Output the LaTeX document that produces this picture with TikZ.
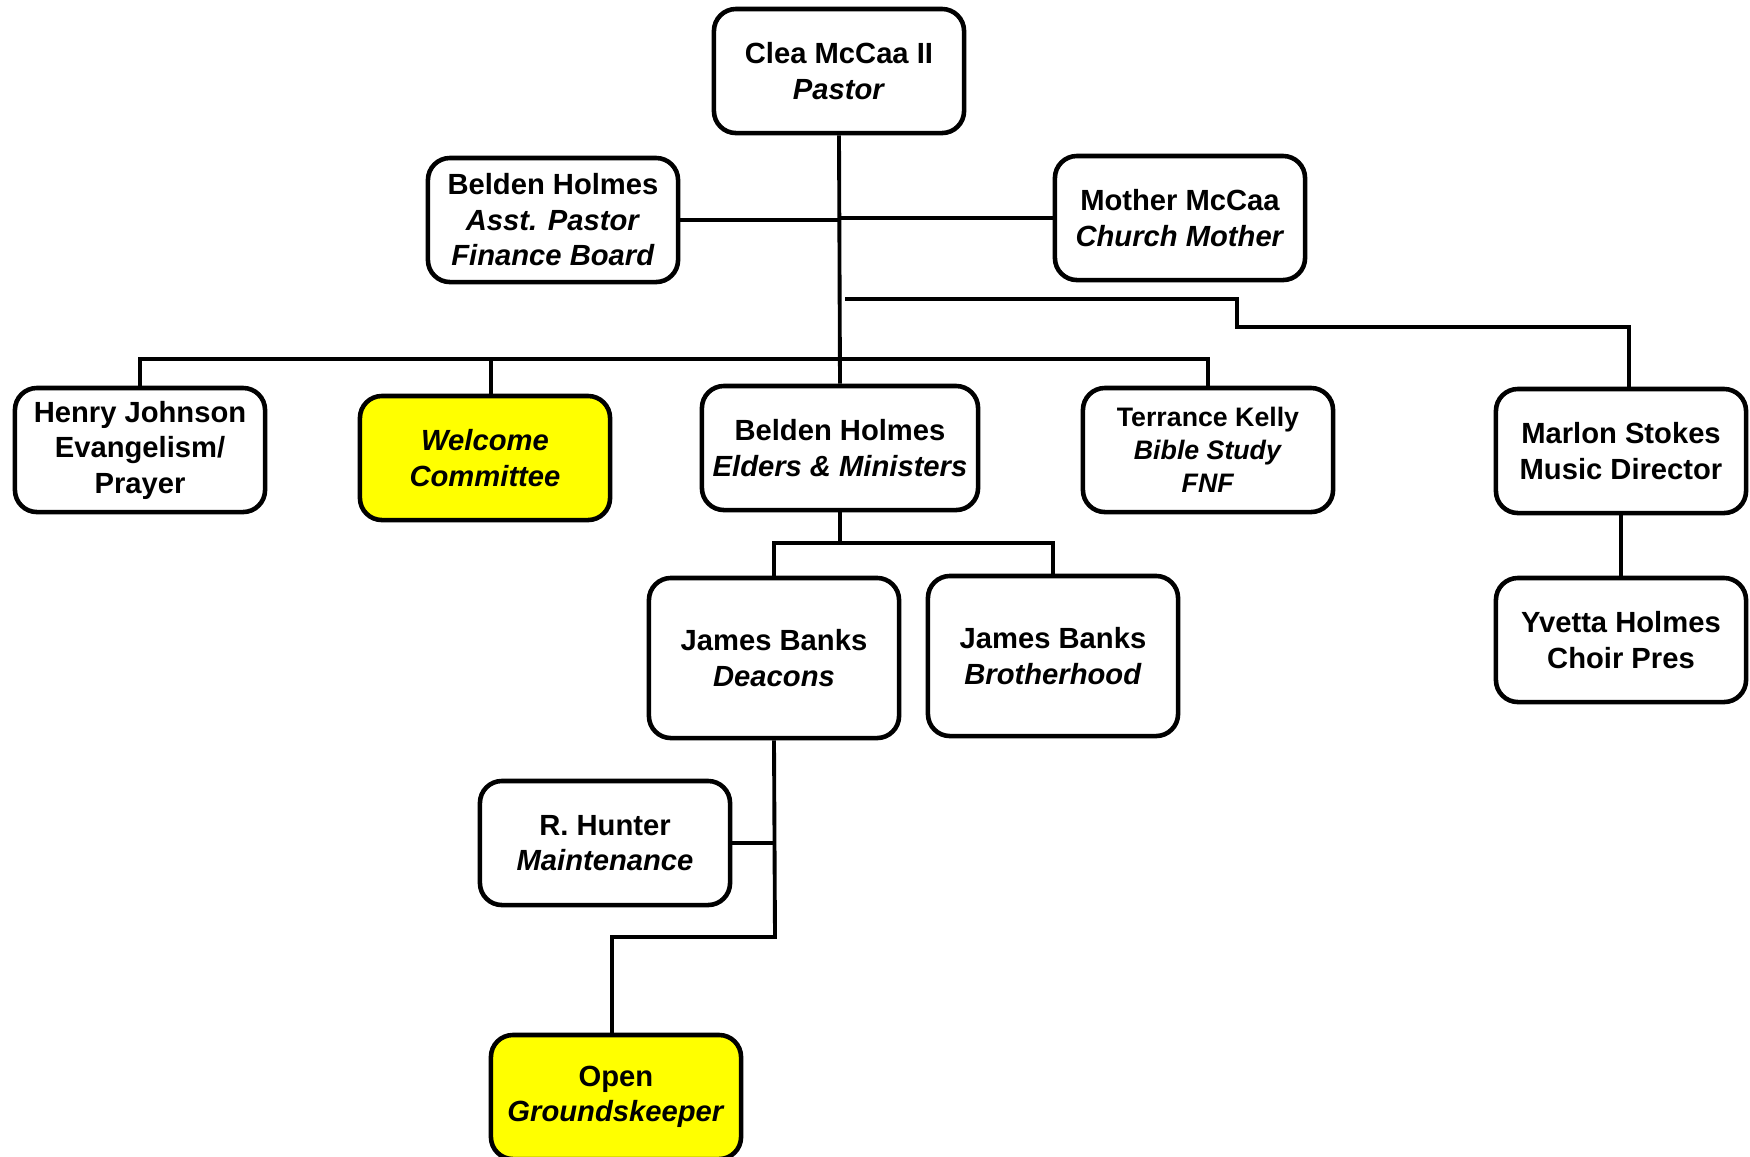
\documentclass[tikz,border=0pt]{standalone}
\usepackage{fontspec}
\setmainfont{Liberation Sans}
\usepackage{tikz}
\usetikzlibrary{positioning}
\definecolor{LineColor}{RGB}{0,0,0}
\definecolor{Highlight}{RGB}{255,255,0}

\tikzset{
  box/.style={draw=LineColor, fill=white, text=black, line width=1.3pt, rounded corners=2.2mm,
    align=center, minimum width=25mm, minimum height=12.4mm, inner sep=1pt,
    font=\bfseries\fontsize{8.3}{10.1}\selectfont},
  openbox/.style={box, fill=Highlight},
  link/.style={draw=LineColor, line width=1.1pt}
}

\begin{document}
\begin{tikzpicture}[x=0.01cm, y=-0.01cm]
    \useasboundingbox (0,0) rectangle (1750,1156);

    \node[box] (pastor) at (839,71) {Clea McCaa II\\\textit{Pastor}};

    \node[box] (asst) at (553,220) {Belden Holmes\\\textit{Asst. Pastor}\\\textit{Finance Board}};

    \node[box] (mother) at (1180,218) {Mother McCaa\\\textit{Church Mother}};

    \node[box] (henry) at (140,450) {Henry Johnson\\Evangelism/\\Prayer};

    \node[openbox] (welcome) at (485,458) {\textit{Welcome}\\\textit{Committee}};

    \node[box, minimum width=27.6mm] (elders) at (840,448) {Belden Holmes\\\textit{Elders \& Ministers}};

    \node[box, font=\bfseries\fontsize{7.6}{9.4}\selectfont] (terrance) at (1208,450) {Terrance Kelly\\\textit{Bible Study}\\\textit{FNF}};

    \node[box] (marlon) at (1621,451) {Marlon Stokes\\Music Director};

    \node[box, minimum height=16mm] (deacons) at (774,658) {James Banks\\\textit{Deacons}};

    \node[box, minimum height=16mm] (brother) at (1053,656) {James Banks\\\textit{Brotherhood}};

    \node[box] (yvetta) at (1621,640) {Yvetta Holmes\\Choir Pres};

    \node[box] (hunter) at (605,843) {R. Hunter\\\textit{Maintenance}};

    \node[openbox] (open) at (616,1097) {Open\\\textit{Groundskeeper}};

    % bends of the lines
    \coordinate (bus) at (839,359);
    \coordinate (welcometop) at (491,395);
    \coordinate (musicbus) at (845,299);
    \coordinate (musictop) at (1629,388);
    \coordinate (eldbus) at (840,543);
    \coordinate (gbend) at (775,937);
    \coordinate (opentop) at (612,1034);

    \draw[link] (pastor.south) -- (elders.north);
    \draw[link] (asst.east) -- (asst.east -| pastor.south);
    \draw[link] (mother.west) -- (mother.west -| pastor.south);
    \draw[link] (musicbus) -| (1237,327) -| (musictop);
    \draw[link] (henry.north) |- (bus) -| (terrance.north);
    \draw[link] (welcometop) -- (welcometop |- bus);
    \draw[link] (elders.south) -- (eldbus);
    \draw[link] (deacons.north) |- (eldbus) -| (brother.north);
    \draw[link] (deacons.south) -- (gbend) -| (opentop);
    \draw[link] (hunter.east) -- (hunter.east -| gbend);
    \draw[link] (marlon.south) -- (yvetta.north);

\end{tikzpicture}
\end{document}
